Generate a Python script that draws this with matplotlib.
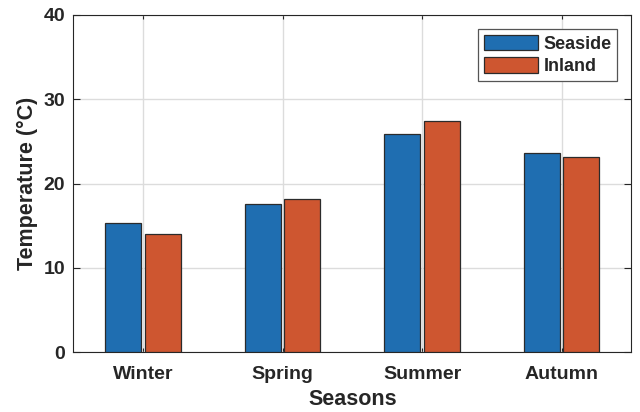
import numpy as np
import matplotlib
matplotlib.use("Agg")
import matplotlib.pyplot as plt

# Temperatures moyennes par saison
seasons = ["Winter", "Spring", "Summer", "Autumn"]
seaside = [15.3, 17.6, 25.9, 23.6]
inland = [14.0, 18.2, 27.4, 23.2]

text_col = "#262626"
plt.rcParams["font.family"] = ["Liberation Sans", "DejaVu Sans"]
plt.rcParams["font.weight"] = "bold"

fig = plt.figure(figsize=(6.4, 4.12), dpi=100)
ax = fig.add_axes([0.1146, 0.1456, 0.8719, 0.818])

x = np.arange(1, len(seasons) + 1)
w = 0.257
off = 0.1414
ax.bar(x - off, seaside, w, color="#1F6EB1", edgecolor="#2b2b2b",
       linewidth=0.9, label="Seaside", zorder=3)
ax.bar(x + off, inland, w, color="#CE5630", edgecolor="#2b2b2b",
       linewidth=0.9, label="Inland", zorder=3)

ax.set_xlim(0.5, 4.5)
ax.set_ylim(0, 40)
ax.set_xticks(x)
ax.set_xticklabels(seasons)
ax.set_yticks([0, 10, 20, 30, 40])

ax.grid(True, color="#dcdcdc", linewidth=1.0, zorder=0)
ax.set_axisbelow(True)

ax.tick_params(axis="both", direction="in", colors=text_col, labelsize=14,
               width=0.8)
ax.tick_params(axis="y", length=5, pad=6, right=True)
ax.tick_params(axis="x", length=3, pad=10, top=True)
for lab in ax.get_xticklabels() + ax.get_yticklabels():
    lab.set_fontweight("bold")
for sp in ax.spines.values():
    sp.set_color(text_col)
    sp.set_linewidth(0.8)

ax.set_xlabel("Seasons", fontsize=15.5, fontweight="bold", color=text_col,
              labelpad=4.5)
ax.set_ylabel("Temperature (°C)", fontsize=15.5, fontweight="bold",
              color=text_col, labelpad=4)

leg = ax.legend(loc="upper right", fontsize=13, handlelength=3.0,
                handleheight=0.95, handletextpad=0.3, labelspacing=0.25,
                borderpad=0.3, borderaxespad=0.8, fancybox=False,
                framealpha=1, edgecolor="#555555")
leg.get_frame().set_linewidth(0.9)
for t in leg.get_texts():
    t.set_color(text_col)
    t.set_fontweight("bold")

fig.savefig("out.png", dpi=100)
